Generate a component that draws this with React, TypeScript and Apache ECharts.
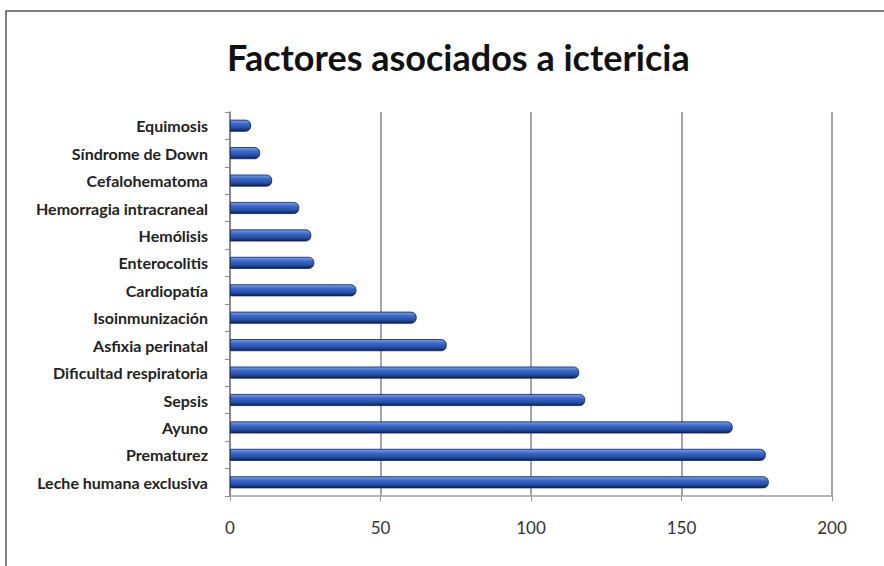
import React, { useEffect, useRef } from "react";
import * as echarts from "echarts";

const titleText = "Factores asociados a ictericia";
const categories = [
  "Leche humana exclusiva",
  "Prematurez",
  "Ayuno",
  "Sepsis",
  "Dificultad respiratoria",
  "Asfixia perinatal",
  "Isoinmunización",
  "Cardiopatía",
  "Enterocolitis",
  "Hemólisis",
  "Hemorragia intracraneal",
  "Cefalohematoma",
  "Síndrome de Down",
  "Equimosis",
];
const values = [179, 178, 167, 118, 116, 72, 62, 42, 28, 27, 23, 14, 10, 7];
const xMin = 0;
const xMax = 200;
const xInterval = 50;

export default function App() {
  const ref = useRef<HTMLDivElement>(null);
  useEffect(() => {
    document.body.style.margin = "0";
    const chart = echarts.init(ref.current!, null, { renderer: "svg" });
    chart.setOption({
      animation: false,
      backgroundColor: "#ffffff",
      title: {
        text: titleText,
        left: 222,
        top: 34,
        textStyle: {
          fontFamily: "Lato",
          fontWeight: "bold",
          fontSize: 36,
          color: "#111111",
        },
      },
      graphic: [
        {
          type: "rect",
          shape: { x: 6, y: 11, width: 1000, height: 700 },
          style: { fill: "none", stroke: "#555555", lineWidth: 1.5 },
          silent: true,
        },
      ],
      grid: { left: 230, right: 52, top: 112, bottom: 70 },
      xAxis: {
        type: "value",
        min: xMin,
        max: xMax,
        interval: xInterval,
        axisLine: { show: true, lineStyle: { color: "#a0a0a0", width: 1.5 } },
        axisTick: { show: true, length: 5, lineStyle: { color: "#9a9a9a" } },
        splitLine: {
          show: true,
          lineStyle: { color: "#85859a", width: 1.5 },
        },
        axisLabel: {
          fontFamily: "Lato",
          fontSize: 17,
          color: "#333333",
          margin: 23,
        },
      },
      yAxis: {
        type: "category",
        data: categories,
        axisLine: { show: true, lineStyle: { color: "#808080", width: 1.5 } },
        axisTick: { show: true, length: 5, lineStyle: { color: "#8a8a8a" } },
        axisLabel: {
          fontFamily: "Lato",
          fontWeight: "bold",
          fontSize: 16,
          color: "#222222",
          margin: 22,
        },
      },
      series: [
        {
          type: "bar",
          data: values,
          barWidth: 12,
          itemStyle: {
            borderRadius: [0, 5, 5, 0],
            borderColor: "#0b1f5e",
            borderWidth: 0.8,
            color: new echarts.graphic.LinearGradient(0, 0, 0, 1, [
              { offset: 0, color: "#7f9fe0" },
              { offset: 0.35, color: "#3a68c8" },
              { offset: 0.7, color: "#2350a8" },
              { offset: 1, color: "#0a1d55" },
            ]),
          },
        },
      ],
    });
    return () => chart.dispose();
  }, []);
  return <div ref={ref} style={{ width: 884, height: 566 }} />;
}
